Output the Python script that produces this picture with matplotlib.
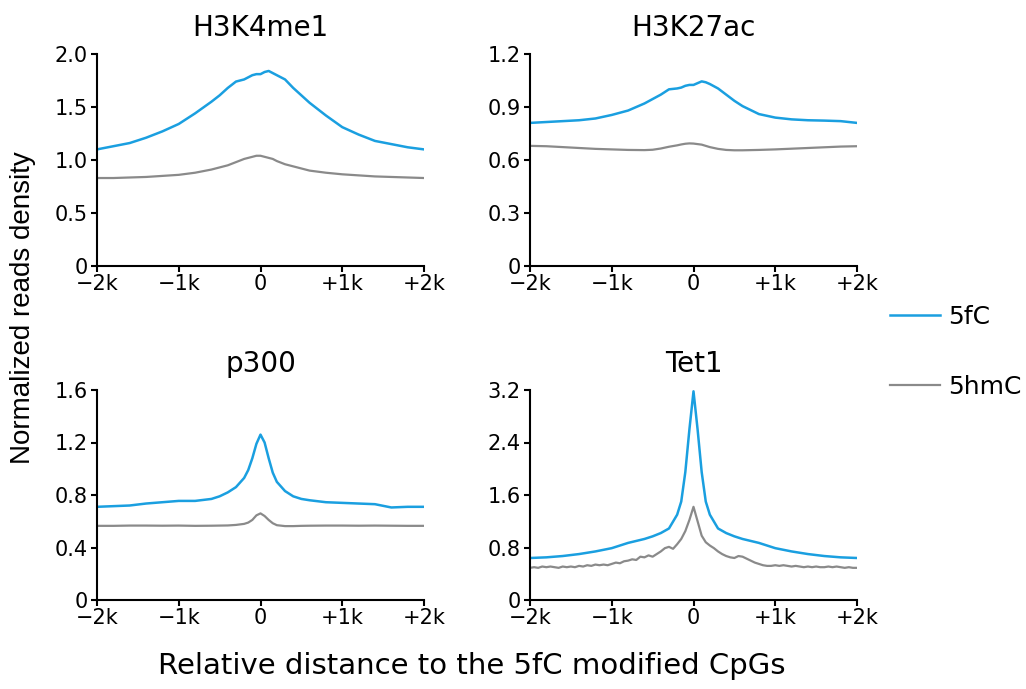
import numpy as np
import matplotlib
matplotlib.use("Agg")
import matplotlib.pyplot as plt
from matplotlib.lines import Line2D

plt.rcParams['font.family'] = ['DejaVu Sans']

# Posições relativas (pb) para as curvas suaves
pos = [-2000, -1800, -1600, -1400, -1200, -1000, -800, -600, -500, -400,
       -300, -200, -150, -100, -50, 0, 50, 100, 150, 200,
       300, 400, 500, 600, 800, 1000, 1200, 1400, 1600, 1800, 2000]

# H3K4me1
h3k4_5fc = [1.10, 1.13, 1.16, 1.21, 1.27, 1.34, 1.44, 1.55, 1.61, 1.68,
            1.74, 1.76, 1.78, 1.80, 1.81, 1.81, 1.83, 1.84, 1.82, 1.80,
            1.76, 1.68, 1.61, 1.54, 1.42, 1.31, 1.24, 1.18, 1.15, 1.12, 1.10]
h3k4_5hmc = [0.83, 0.83, 0.835, 0.84, 0.85, 0.86, 0.88, 0.91, 0.93, 0.95,
             0.98, 1.01, 1.02, 1.03, 1.04, 1.04, 1.03, 1.02, 1.01, 0.99,
             0.96, 0.94, 0.92, 0.90, 0.88, 0.865, 0.855, 0.845, 0.84, 0.835, 0.83]

# H3K27ac
h3k27_5fc = [0.81, 0.815, 0.82, 0.825, 0.835, 0.855, 0.88, 0.92, 0.945, 0.97,
             1.00, 1.005, 1.01, 1.02, 1.025, 1.025, 1.035, 1.045, 1.04, 1.03,
             1.005, 0.97, 0.935, 0.905, 0.86, 0.84, 0.83, 0.825, 0.823, 0.82, 0.81]
h3k27_5hmc = [0.68, 0.678, 0.673, 0.668, 0.663, 0.66, 0.657, 0.656, 0.658, 0.665,
              0.675, 0.683, 0.688, 0.692, 0.694, 0.693, 0.69, 0.687, 0.68, 0.673,
              0.663, 0.657, 0.655, 0.655, 0.657, 0.66, 0.664, 0.668, 0.672, 0.676, 0.678]

# p300
p300_5fc = [0.71, 0.715, 0.72, 0.735, 0.745, 0.755, 0.755, 0.77, 0.79, 0.82,
            0.86, 0.93, 0.99, 1.08, 1.19, 1.26, 1.20, 1.08, 0.97, 0.90,
            0.83, 0.79, 0.77, 0.76, 0.745, 0.74, 0.735, 0.73, 0.705, 0.71, 0.71]
p300_5hmc = [0.565, 0.565, 0.567, 0.567, 0.566, 0.567, 0.565, 0.566, 0.567, 0.568,
             0.572, 0.58, 0.59, 0.61, 0.645, 0.66, 0.64, 0.61, 0.585, 0.57,
             0.563, 0.563, 0.565, 0.566, 0.567, 0.567, 0.566, 0.567, 0.566, 0.565, 0.565]

# Tet1
tet1_5fc = [0.64, 0.65, 0.67, 0.70, 0.74, 0.79, 0.87, 0.93, 0.97, 1.02,
            1.09, 1.30, 1.50, 1.95, 2.60, 3.18, 2.60, 1.95, 1.50, 1.30,
            1.09, 1.02, 0.97, 0.93, 0.87, 0.79, 0.74, 0.70, 0.67, 0.65, 0.64]

# Tet1 5hmC (ruidoso) em passos de 50 pb
pos_fino = np.arange(-2000, 2001, 50)
tet1_5hmc = [0.49, 0.50, 0.49, 0.51, 0.50, 0.51, 0.50, 0.49, 0.51, 0.50,
             0.51, 0.50, 0.52, 0.51, 0.53, 0.52, 0.54, 0.53, 0.54, 0.53,
             0.55, 0.57, 0.56, 0.59, 0.60, 0.62, 0.61, 0.66, 0.65, 0.68,
             0.66, 0.70, 0.74, 0.79, 0.81, 0.78, 0.85, 0.93, 1.05, 1.22,
             1.42,
             1.20, 0.98, 0.88, 0.83, 0.79, 0.74, 0.70, 0.67, 0.65, 0.64,
             0.67, 0.66, 0.63, 0.60, 0.57, 0.55, 0.53, 0.52, 0.52, 0.53,
             0.52, 0.53, 0.52, 0.51, 0.52, 0.51, 0.50, 0.51, 0.50, 0.51,
             0.50, 0.50, 0.51, 0.50, 0.51, 0.50, 0.49, 0.50, 0.49, 0.49]

titles = ['H3K4me1', 'H3K27ac', 'p300', 'Tet1']
yticks = [[0, 0.5, 1.0, 1.5, 2.0], [0, 0.3, 0.6, 0.9, 1.2],
          [0, 0.4, 0.8, 1.2, 1.6], [0, 0.8, 1.6, 2.4, 3.2]]
ytick_labels = [['0', '0.5', '1.0', '1.5', '2.0'], ['0', '0.3', '0.6', '0.9', '1.2'],
                ['0', '0.4', '0.8', '1.2', '1.6'], ['0', '0.8', '1.6', '2.4', '3.2']]
xticks = [-2000, -1000, 0, 1000, 2000]
xtick_labels = ['\u22122k', '\u22121k', '0', '+1k', '+2k']

azul = '#1a9fe0'
cinza = '#8a8a8a'

series = [
    (pos, h3k4_5fc, pos, h3k4_5hmc),
    (pos, h3k27_5fc, pos, h3k27_5hmc),
    (pos, p300_5fc, pos, p300_5hmc),
    (pos, tet1_5fc, pos_fino, tet1_5hmc),
]

fig = plt.figure(figsize=(10.26, 6.89), dpi=100)

W = 1026
H = 689
caixas = [(97, 54, 424, 266), (530, 54, 857, 266),
          (97, 390, 424, 600), (530, 390, 857, 600)]

for i, (x1, y1, x2, y2) in enumerate(series):
    l, t, r, b = caixas[i]
    ax = fig.add_axes([l / W, 1 - b / H, (r - l) / W, (b - t) / H])
    ax.plot(x2, y2, color=cinza, lw=1.6)
    ax.plot(x1, y1, color=azul, lw=1.8)
    ax.set_xlim(-2000, 2000)
    ax.set_ylim(0, yticks[i][-1])
    ax.set_xticks(xticks)
    ax.set_xticklabels(xtick_labels)
    ax.set_yticks(yticks[i])
    ax.set_yticklabels(ytick_labels[i])
    ax.set_title(titles[i], fontsize=20, pad=13)
    for s in ['top', 'right']:
        ax.spines[s].set_visible(False)
    for s in ['left', 'bottom']:
        ax.spines[s].set_linewidth(1.5)
    ax.tick_params(direction='out', length=4, width=1.5, labelsize=15)
    ax.tick_params(axis='x', pad=1.5)
    ax.tick_params(axis='y', pad=2.5)

fig.text(0.022, 0.554, 'Normalized reads density', rotation=90,
         ha='center', va='center', fontsize=20, family='Liberation Sans')
fig.text(0.46, 0.033, 'Relative distance to the 5fC modified CpGs',
         ha='center', va='center', fontsize=21)

handles = [Line2D([], [], color=azul, lw=1.8), Line2D([], [], color=cinza, lw=1.6)]
fig.legend(handles, ['5fC', '5hmC'], loc='center left',
           bbox_to_anchor=(890 / W, 1 - 352 / H), frameon=False,
           fontsize=18, labelspacing=1.85, handlelength=2.0,
           handletextpad=0.32, borderpad=0, borderaxespad=0)

fig.savefig('out.png', dpi=100)
